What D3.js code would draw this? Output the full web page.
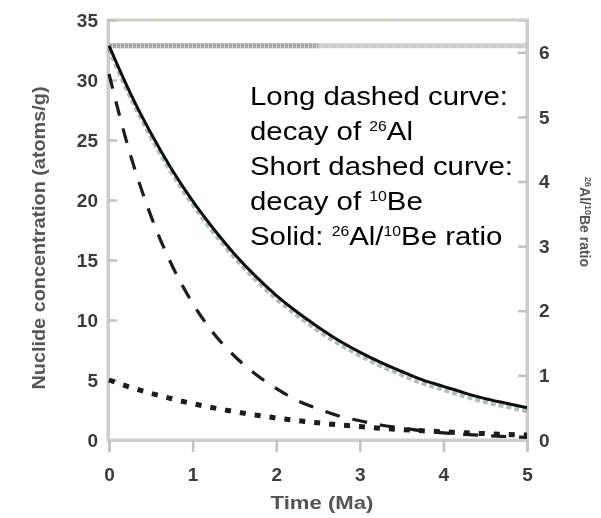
<!DOCTYPE html>
<html>
<head>
<meta charset="utf-8">
<script src="https://cdn.jsdelivr.net/npm/d3@7/dist/d3.min.js"></script>
<style>
  body { margin: 0; background: #fff; }
  svg { display: block; }
</style>
</head>
<body>
<div id="chart"></div>
<script>
// Data (time in Ma)
const timeMa = [0, 0.25, 0.5, 0.75, 1, 1.25, 1.5, 1.75, 2, 2.25, 2.5, 2.75, 3, 3.25, 3.5, 3.75, 4, 4.25, 4.5, 4.75, 5];
// long dashed: 26Al (left axis)
const al26 = [30.5, 23.9, 18.7, 14.6, 11.4, 8.9, 7.0, 5.5, 4.3, 3.3, 2.6, 2.0, 1.6, 1.25, 1.0, 0.77, 0.6, 0.47, 0.37, 0.29, 0.22];
// short dashed: 10Be (left axis)
const be10 = [5.0, 4.41, 3.89, 3.44, 3.03, 2.68, 2.36, 2.08, 1.84, 1.62, 1.43, 1.26, 1.12, 0.98, 0.87, 0.77, 0.68, 0.60, 0.53, 0.46, 0.41];
// solid: 26Al/10Be ratio (right axis)
const ratio = [6.1, 5.38, 4.75, 4.19, 3.70, 3.27, 2.88, 2.54, 2.24, 1.98, 1.75, 1.54, 1.36, 1.20, 1.06, 0.93, 0.83, 0.73, 0.64, 0.57, 0.50];
const productionRatio = 6.1;

const xTicks = [0, 1, 2, 3, 4, 5];
const leftTicks = [0, 5, 10, 15, 20, 25, 30, 35];
const rightTicks = [0, 1, 2, 3, 4, 5, 6];

const legendLines = [
  [{ t: "Long dashed curve:" }],
  [{ t: "decay of " }, { t: "26", sup: true }, { t: "Al" }],
  [{ t: "Short dashed curve:" }],
  [{ t: "decay of " }, { t: "10", sup: true }, { t: "Be" }],
  [{ t: "Solid: " }, { t: "26", sup: true }, { t: "Al/" }, { t: "10", sup: true }, { t: "Be ratio" }]
];

const width = 601, height = 518;
const plot = { left: 108, right: 527, top: 20, bottom: 440 };

const svg = d3.select("#chart").append("svg")
  .attr("width", width)
  .attr("height", height);

// soft blur to mimic the scanned look; big user space region so flat lines
// and translated groups are not clipped
svg.append("defs").append("filter").attr("id", "soft")
  .attr("filterUnits", "userSpaceOnUse")
  .attr("x", -700).attr("y", -700).attr("width", 2000).attr("height", 2000)
  .append("feGaussianBlur").attr("stdDeviation", 0.55);

const x = d3.scaleLinear().domain([0, 5]).range([plot.left + 1, plot.right]);
const yL = d3.scaleLinear().domain([0, 35]).range([plot.bottom, plot.top]);
const yR = d3.scaleLinear().domain([0, 6.5]).range([plot.bottom, plot.top]);

const axisColor = "#cdcdcd";
const labelFont = "'Liberation Sans', Arial, sans-serif";
const fmt = d3.format("d");

// frame
const frame = svg.append("g").attr("filter", "url(#soft)");

frame.append("rect")
  .attr("x", plot.left).attr("y", plot.top)
  .attr("width", plot.right - plot.left).attr("height", plot.bottom - plot.top)
  .style("fill", "none").style("stroke", axisColor).style("stroke-width", 3);

// minor yellowish dots along the frame
const dotColor = "#e0d68e";
frame.append("g").selectAll("line")
  .data(d3.range(0, 35, 1))
  .join("line")
  .attr("x1", plot.left - 1).attr("x2", plot.left + 1)
  .attr("y1", d => yL(d)).attr("y2", d => yL(d))
  .style("stroke", dotColor).style("stroke-width", 2);
frame.append("g").selectAll("line")
  .data(d3.range(0, 5, 0.1))
  .join("line")
  .attr("x1", d => x(d)).attr("x2", d => x(d))
  .attr("y1", plot.top - 1).attr("y2", plot.top + 1)
  .style("stroke", dotColor).style("stroke-width", 2);
frame.append("g").selectAll("line")
  .data(d3.range(0, 5, 0.2))
  .join("line")
  .attr("x1", d => x(d)).attr("x2", d => x(d))
  .attr("y1", plot.bottom - 1).attr("y2", plot.bottom + 1)
  .style("stroke", dotColor).style("stroke-width", 2);

// axes
const leftAxis = svg.append("g")
  .attr("transform", `translate(${plot.left},0)`)
  .call(d3.axisLeft(yL).tickValues(leftTicks).tickFormat(fmt).tickSize(-9).tickPadding(12));
const rightAxis = svg.append("g")
  .attr("transform", `translate(${plot.right},0)`)
  .call(d3.axisRight(yR).tickValues(rightTicks).tickFormat(fmt).tickSize(-9).tickPadding(12));
const bottomAxis = svg.append("g")
  .attr("transform", `translate(0,${plot.bottom})`)
  .call(d3.axisBottom(x).tickValues(xTicks).tickFormat(fmt).tickSize(12).tickPadding(12));

[leftAxis, rightAxis, bottomAxis].forEach(g => {
  g.attr("filter", "url(#soft)");
  g.select(".domain").style("stroke", axisColor).style("stroke-width", 3);
  g.selectAll(".tick line").style("stroke", "#c2c2c2").style("stroke-width", 2.5);
  g.selectAll(".tick text")
    .style("font-family", labelFont)
    .style("font-size", "19px")
    .style("font-weight", "bold")
    .style("fill", "#3a3a3a");
});
leftAxis.selectAll(".tick text").attr("x", -10);
bottomAxis.selectAll(".tick text").attr("dy", "0.9em");

// production ratio reference line
const refLine = svg.append("g").attr("filter", "url(#soft)");
refLine.append("line")
  .attr("x1", x(0)).attr("x2", x(5))
  .attr("y1", yR(productionRatio)).attr("y2", yR(productionRatio))
  .style("stroke", "#d2d2d2").style("stroke-width", 5);
refLine.append("line")
  .attr("x1", x(0)).attr("x2", x(2.5))
  .attr("y1", yR(productionRatio)).attr("y2", yR(productionRatio))
  .style("stroke", "#a9a9a9").style("stroke-width", 5)
  .style("stroke-dasharray", "3,1");
refLine.append("line")
  .attr("x1", x(2.5)).attr("x2", x(5))
  .attr("y1", yR(productionRatio)).attr("y2", yR(productionRatio))
  .style("stroke", "#b8b8b8").style("stroke-width", 5)
  .style("stroke-dasharray", "1,7");

// curves
const curves = svg.append("g").attr("filter", "url(#soft)");

const lineL = d3.line()
  .x((d, i) => x(timeMa[i]))
  .y(d => yL(d))
  .curve(d3.curveMonotoneX);
const lineR = d3.line()
  .x((d, i) => x(timeMa[i]))
  .y(d => yR(d))
  .curve(d3.curveMonotoneX);

// grey dashed shadow under ratio curve
curves.append("path")
  .datum(ratio)
  .attr("d", lineR)
  .attr("transform", "translate(0,3)")
  .style("fill", "none")
  .style("stroke", "#8fa3a3")
  .style("stroke-width", 5)
  .style("stroke-dasharray", "5,3")
  .style("opacity", 0.7);

curves.append("path")
  .datum(ratio)
  .attr("d", lineR)
  .style("fill", "none")
  .style("stroke", "#111")
  .style("stroke-width", 3);

curves.append("path")
  .datum(al26)
  .attr("d", lineL)
  .style("fill", "none")
  .style("stroke", "#1a1a1a")
  .style("stroke-width", 3.2)
  .style("stroke-dasharray", "15,13");

curves.append("path")
  .datum(be10)
  .attr("d", lineL)
  .style("fill", "none")
  .style("stroke", "#1a1a1a")
  .style("stroke-width", 5)
  .style("stroke-dasharray", "6,9");

// axis titles
const titles = svg.append("g").attr("filter", "url(#soft)")
  .style("font-family", labelFont)
  .style("font-weight", "bold")
  .style("fill", "#555");

titles.append("text")
  .attr("x", 322).attr("y", 509)
  .attr("text-anchor", "middle")
  .attr("textLength", 103)
  .attr("lengthAdjust", "spacingAndGlyphs")
  .style("font-size", "18px")
  .text("Time (Ma)");

titles.append("text")
  .attr("transform", "translate(45,238) rotate(-90)")
  .attr("text-anchor", "middle")
  .attr("textLength", 303)
  .attr("lengthAdjust", "spacingAndGlyphs")
  .style("font-size", "18px")
  .text("Nuclide concentration (atoms/g)");

const rt = titles.append("text")
  .attr("transform", "translate(580,177) rotate(90)")
  .style("font-size", "14px");
rt.append("tspan").attr("dy", -5).style("font-size", "9px").text("26");
rt.append("tspan").attr("dy", 5).text("Al/");
rt.append("tspan").attr("dy", -5).style("font-size", "9px").text("10");
rt.append("tspan").attr("dy", 5).text("Be ratio");

// legend text
const legend = svg.append("g")
  .attr("transform", "translate(250,0) scale(1.13,1)")
  .style("font-family", labelFont)
  .style("font-size", "26px")
  .style("fill", "#000");

legendLines.forEach((parts, i) => {
  const t = legend.append("text").attr("x", 0).attr("y", 105 + i * 35);
  let raised = false;
  parts.forEach(p => {
    const s = t.append("tspan").text(p.t);
    if (p.sup) {
      s.attr("dy", -8.5).style("font-size", "14px");
      raised = true;
    } else if (raised) {
      s.attr("dy", 8.5);
      raised = false;
    }
  });
});
</script>
</body>
</html>
